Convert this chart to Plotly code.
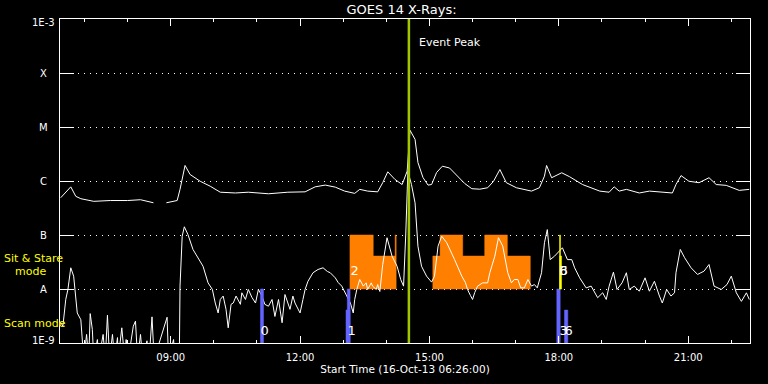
import numpy as np
import plotly.graph_objects as go

DAY = "2013-10-16 "
x_start, x_end = "06:26", "22:26"
title_text = "GOES 14 X-Rays:"
xaxis_title = "Start Time (16-Oct-13 06:26:00)"
event_time = "14:31:24"
event_label = "Event Peak"

ytick_vals = [1e-9, 1e-8, 1e-7, 1e-6, 1e-5, 1e-4, 1e-3]
ytick_text = ["1E-9", "A", "B", "C", "M", "X", "1E-3"]

BELOW = 5e-10  # reading below the 1E-9 floor

# GOES long channel (1-8 A); None marks a data gap
long_time = ["06:27", "06:41", "06:48", "06:55", "07:13", "07:36", "08:00", "08:18", "08:36", "08:45",
             "08:54", "09:09", "09:13", "09:20", "09:27", "09:41", "09:55", "10:09", "10:30", "10:48",
             "11:16", "11:43", "12:07", "12:21", "12:35", "12:49", "13:02", "13:16", "13:23", "13:34",
             "13:48", "13:55", "14:02", "14:12", "14:22", "14:29", "14:33", "14:40", "14:44", "14:51",
             "14:58", "15:03", "15:10", "15:18", "15:28", "15:39", "15:49", "15:59", "16:10", "16:21",
             "16:29", "16:38", "16:47", "17:01", "17:22", "17:33", "17:40", "17:43", "17:50", "18:04",
             "18:15", "18:33", "18:57", "19:10", "19:17", "19:24", "19:34", "19:52", "20:06", "20:38",
             "20:43", "20:50", "21:01", "21:15", "21:29", "21:39", "21:53", "22:11", "22:25"]
long_flux = [4.9e-7, 7.8e-7, 5.2e-7, 4.7e-7, 4.2e-7, 4.35e-7, 4.35e-7, 4.5e-7, 3.95e-7, None,
             3.95e-7, 4.35e-7, 7.0e-7, 1.94e-6, 1.32e-6, 9.9e-7, 8.0e-7, 6.2e-7, 6.0e-7, 6.2e-7,
             5.8e-7, 6.2e-7, 6.3e-7, 7.8e-7, 8.4e-7, 7.7e-7, 6.5e-7, 5.9e-7, 7.0e-7, 6.5e-7,
             6.3e-7, 9.3e-7, 1.48e-6, 1.07e-6, 8.6e-7, 1.52e-6, 8.7e-6, 5.9e-6, 2.2e-6, 1.16e-6,
             8.4e-7, 8.6e-7, 1.44e-6, 1.88e-6, 1.74e-6, 1.23e-6, 9.0e-7, 7.2e-7, 7.05e-7, 7.5e-7,
             9.8e-7, 1.63e-6, 9.3e-7, 7.5e-7, 6.5e-7, 7.5e-7, 1.23e-6, 1.94e-6, 1.15e-6, 1.42e-6,
             1.2e-6, 8.6e-7, 6.5e-7, 6.2e-7, 7.8e-7, 6.5e-7, 7.0e-7, 6.0e-7, 6.5e-7, 6.0e-7,
             8.6e-7, 1.26e-6, 9.9e-7, 9.3e-7, 1.15e-6, 8.6e-7, 8.3e-7, 6.7e-7, 7.0e-7]

# GOES short channel (0.5-4 A)
short_time = ["06:27", "06:30", "06:34", "06:37", "06:41", "06:45", "06:50", "06:55", "06:59", "07:03",
              "07:06", "07:08", "07:11", "07:13", "07:18", "07:20", "07:26", "07:29", "07:32", "07:35",
              "07:39", "07:42", "07:46", "07:47", "07:52", "07:56", "07:58", "08:01", "08:08", "08:11",
              "08:14", "08:18", "08:21", "08:27", "08:30", "08:34", "08:37", "08:55", "08:57", "09:04",
              "09:06", "09:12", "09:13", "09:16", "09:19", "09:24", "09:31", "09:37", "09:45", "09:52",
              "09:58", "10:02", "10:06", "10:09", "10:13", "10:17", "10:20", "10:24", "10:27", "10:31",
              "10:37", "10:39", "10:44", "10:48", "10:53", "10:58", "11:02", "11:07", "11:11", "11:16",
              "11:21", "11:25", "11:30", "11:35", "11:39", "11:46", "11:50", "11:53", "12:00", "12:04",
              "12:07", "12:11", "12:18", "12:25", "12:32", "12:38", "12:42", "12:49", "12:53", "12:58",
              "13:02", "13:05", "13:10", "13:14", "13:16", "13:19", "13:23", "13:28", "13:32", "13:34",
              "13:39", "13:41", "13:46", "13:48", "13:51", "13:55", "14:01", "14:08", "14:15", "14:20",
              "14:24", "14:27", "14:30", "14:35", "14:40", "14:44", "14:49", "14:56", "15:03", "15:07",
              "15:12", "15:17", "15:24", "15:35", "15:45", "15:50", "15:53", "15:57", "16:00", "16:03",
              "16:07", "16:14", "16:21", "16:24", "16:31", "16:36", "16:42", "16:49", "16:54", "16:58",
              "17:03", "17:07", "17:12", "17:17", "17:22", "17:26", "17:30", "17:36", "17:40", "17:44",
              "17:48", "17:54", "17:58", "18:05", "18:12", "18:18", "18:22", "18:29", "18:38", "18:45",
              "18:54", "19:01", "19:06", "19:10", "19:16", "19:21", "19:28", "19:34", "19:38", "19:45",
              "19:52", "20:00", "20:06", "20:13", "20:20", "20:24", "20:30", "20:36", "20:41", "20:43",
              "20:49", "20:55", "21:04", "21:13", "21:22", "21:29", "21:36", "21:46", "21:54", "22:00",
              "22:07", "22:14", "22:21", "22:25"]
short_flux = [2.4e-9, 2.05e-9, 6.4e-9, 9.8e-9, 2.47e-8, 1.73e-8, 3.6e-9, 2.7e-9, BELOW, 1.44e-9,
              BELOW, 3.5e-9, 1.78e-9, BELOW, 1.16e-9, BELOW, 1.44e-9, BELOW, 3.27e-9, BELOW,
              1.44e-9, BELOW, 1.26e-9, BELOW, 1.91e-9, BELOW, 1.16e-9, BELOW, 2.05e-9, 2.54e-9,
              BELOW, 1.44e-9, BELOW, 1.1e-9, BELOW, 3.05e-9, BELOW, 3.0e-9, BELOW, 1.16e-9,
              BELOW, BELOW, 1.13e-8, 9.5e-8, 1.42e-7, 1.02e-7, 5.4e-8, 4.05e-8, 2.64e-8, 1.3e-8,
              9.8e-9, 5.5e-9, 3.6e-9, 6.4e-9, 7.4e-9, 4.2e-9, 1.91e-9, 5.2e-9, 5.5e-9, 7.4e-9,
              5.2e-9, 8.5e-9, 6.4e-9, 9.8e-9, 7.0e-9, 5.5e-9, 9.8e-9, 7.4e-9, 5.2e-9, 4.8e-9,
              6.4e-9, 3.1e-9, 6.4e-9, 2.37e-9, 7.9e-9, 4.2e-9, 7.4e-9, 5.5e-9, 3.6e-9, 6.4e-9,
              9.8e-9, 1.39e-8, 2.0e-8, 2.3e-8, 2.47e-8, 2.11e-8, 2.0e-8, 1.61e-8, 1.32e-8, 1.13e-8,
              9.0e-9, 7.4e-9, 5.5e-9, 3.6e-9, 6.4e-9, 9.8e-9, 1.5e-8, 1.13e-8, 1.3e-8, 9.8e-9,
              1.3e-8, 1.13e-8, 9.8e-9, 1.21e-8, 9.0e-9, 2.84e-8, 8.9e-8, 4.05e-8, 2.64e-8, 1.5e-8,
              1.13e-8, 1.0e-7, 1.52e-6, 8.6e-7, 3.94e-7, 6.2e-8, 2.64e-8, 1.73e-8, 1.34e-8, 1.73e-8,
              6.2e-8, 9.5e-8, 7.2e-8, 3.5e-8, 1.73e-8, 1.32e-8, 9.8e-9, 7.6e-9, 6.4e-9, 8.6e-9,
              1.13e-8, 1.3e-8, 1.3e-8, 2.0e-8, 4.05e-8, 8.9e-8, 6.2e-8, 2.0e-8, 1.3e-8, 1.5e-8,
              1.5e-8, 1.05e-8, 1.05e-8, 1.5e-8, 1.13e-8, 1.21e-8, 1.05e-8, 2.0e-8, 7.2e-8, 1.26e-7,
              3.5e-8, 4.05e-8, 4.7e-8, 5.8e-8, 3.5e-8, 3.5e-8, 2.47e-8, 1.61e-8, 1.05e-8, 1.13e-8,
              6.9e-9, 8.5e-9, 6.4e-9, 1.13e-8, 2.05e-8, 9.8e-9, 1.3e-8, 2.0e-8, 9.8e-9, 1.13e-8,
              9.1e-9, 1.61e-8, 9.1e-9, 1.39e-8, 7.4e-9, 5.5e-9, 9.8e-9, 7.4e-9, 8.5e-9, 2.0e-8,
              5.4e-8, 3.8e-8, 2.47e-8, 1.86e-8, 2.14e-8, 2.84e-8, 1.13e-8, 9.8e-9, 1.21e-8, 1.73e-8,
              8.5e-9, 5.9e-9, 8.5e-9, 6.4e-9]

# Observation timeline: start, end, fraction of band filled
scan_start = ["11:04:54", "13:03:54", "13:05:42", "17:57:12", "18:07:54"]
scan_end = ["11:09:06", "13:09:36", "13:09:36", "18:01:54", "18:12:30"]
scan_level = [1.0, 0.61, 1.0, 1.0, 0.61]

sns_start = ["13:09:24", "13:41:48", "14:12:18", "15:04:42", "15:14:48", "15:46:18", "16:16:54", "16:48:24"]
sns_end = ["13:41:48", "14:12:18", "14:13:42", "15:14:48", "15:46:18", "16:16:54", "16:48:24", "17:20:18"]
sns_level = [1.0, 0.61, 1.0, 0.61, 1.0, 0.61, 1.0, 0.61]

sns2_start = ["18:01:00", "18:01:00"]
sns2_end = ["18:03:48", "18:02:24"]
sns2_level = [0.61, 1.0]

obs_labels = ["0", "1", "2", "3", "6", "3", "6"]
obs_label_time = ["11:05:00", "13:06:00", "13:10:00", "18:01:00", "18:01:00", "18:01:00", "18:08:00"]
obs_label_band = ["scan", "scan", "sns", "sns", "sns", "scan", "scan"]

SCAN_BASE, SNS_BASE = 1e-9, 1e-8


def t(s):
    return DAY + s


def blocks(starts, ends, levels, base):
    xs, ys = [], []
    for s, e, lv in zip(starts, ends, levels):
        top = base * 10 ** lv
        xs += [t(s), t(s), t(e), t(e), t(s), None]
        ys += [base, top, top, base, base, None]
    return xs, ys


fig = go.Figure()

ox, oy = blocks(sns_start, sns_end, sns_level, SNS_BASE)
fig.add_trace(go.Scatter(x=ox, y=oy, mode="lines", fill="toself", fillcolor="#FF8000",
                         line=dict(color="#FF8000", width=0.5), hoverinfo="skip"))

fig.add_trace(go.Scatter(x=[t(s) for s in long_time], y=long_flux, mode="lines",
                         line=dict(color="white", width=1), connectgaps=False))
fig.add_trace(go.Scatter(x=[t(s) for s in short_time], y=short_flux, mode="lines",
                         line=dict(color="white", width=1)))

bx, by = blocks(scan_start, scan_end, scan_level, SCAN_BASE)
fig.add_trace(go.Scatter(x=bx, y=by, mode="lines", fill="toself", fillcolor="#6464FF",
                         line=dict(color="#6464FF", width=0.5), hoverinfo="skip"))
yx, yy = blocks(sns2_start, sns2_end, sns2_level, SNS_BASE)
fig.add_trace(go.Scatter(x=yx, y=yy, mode="lines", fill="toself", fillcolor="#FFFF00",
                         line=dict(color="#FFFF00", width=0.5), hoverinfo="skip"))

label_y = {"scan": 10 ** -8.787, "sns": 10 ** -7.685}
fig.add_trace(go.Scatter(x=[t(s) for s in obs_label_time], y=[label_y[b] for b in obs_label_band],
                         mode="text", text=obs_labels, textposition="middle right",
                         textfont=dict(color="white", size=13, family="DejaVu Sans")))

fig.add_shape(type="line", x0=t(event_time), x1=t(event_time), xref="x", yref="paper",
              y0=0, y1=1, line=dict(color="#A0C800", width=2.5))

FONT = "DejaVu Sans"
ann = []
for i, (v, txt) in enumerate(zip(ytick_vals, ytick_text)):
    ys = 3 if i == 0 else (-3 if i == len(ytick_vals) - 1 else 0)
    ann.append(dict(x=-0.0232, xref="paper", y=np.log10(v), yref="y", text=txt, showarrow=False,
                    xanchor="center", yanchor="middle", yshift=ys,
                    font=dict(color="white", size=10, family=FONT)))
ann.append(dict(x=t(event_time), xref="x", y=1, yref="paper", yanchor="middle", yshift=-23,
                xanchor="left", xshift=8, text=event_label, showarrow=False,
                font=dict(color="white", size=11, family=FONT)))
ann.append(dict(x=-0.0845, xref="paper", y=-7.435, yref="y", text="Sit & Stare", showarrow=False,
                xanchor="left", yanchor="middle", font=dict(color="#FFFF00", size=11, family=FONT)))
ann.append(dict(x=-0.0686, xref="paper", y=-7.670, yref="y", text="mode", showarrow=False,
                xanchor="left", yanchor="middle", font=dict(color="#FFFF00", size=11, family=FONT)))
ann.append(dict(x=-0.0845, xref="paper", y=-8.639, yref="y", text="Scan mode", showarrow=False,
                xanchor="left", yanchor="middle", font=dict(color="#FFFF00", size=11, family=FONT)))

fig.update_layout(
    width=768, height=384,
    margin=dict(l=60, r=18, t=19, b=41),
    paper_bgcolor="black", plot_bgcolor="black",
    showlegend=False,
    title=dict(text=title_text, x=0.495, xref="paper", xanchor="center",
               y=1 - 9.5 / 384, yref="container", yanchor="middle",
               font=dict(color="white", size=13, family=FONT)),
    annotations=ann,
    font=dict(family=FONT, color="white", size=10),
)
fig.update_xaxes(
    type="date", range=[t(x_start), t(x_end)],
    tick0=t("00:00"), dtick=3 * 3600 * 1000, tickformat="%H:%M",
    ticks="inside", ticklen=7, tickcolor="white", tickwidth=1,
    minor=dict(dtick=3600 * 1000, ticks="inside", ticklen=3, tickcolor="white", showgrid=False),
    showline=True, linecolor="white", linewidth=1, mirror="allticks",
    showgrid=False, zeroline=False, ticklabelstandoff=5,
    tickfont=dict(color="white", size=10, family=FONT),
    title=dict(text=xaxis_title, standoff=3, font=dict(color="white", size=10.5, family=FONT)),
)
fig.update_yaxes(
    type="log", range=[-9, -3],
    tickvals=ytick_vals, showticklabels=False,
    ticks="inside", ticklen=14, tickcolor="white", tickwidth=1,
    showline=True, linecolor="white", linewidth=1, mirror="allticks",
    showgrid=True, gridcolor="white", gridwidth=1, griddash="1px,5px", zeroline=False,
)

fig.write_html("out.html", config={"displayModeBar": False},
               post_script="document.body.style.margin='0';document.body.style.background='black';")
